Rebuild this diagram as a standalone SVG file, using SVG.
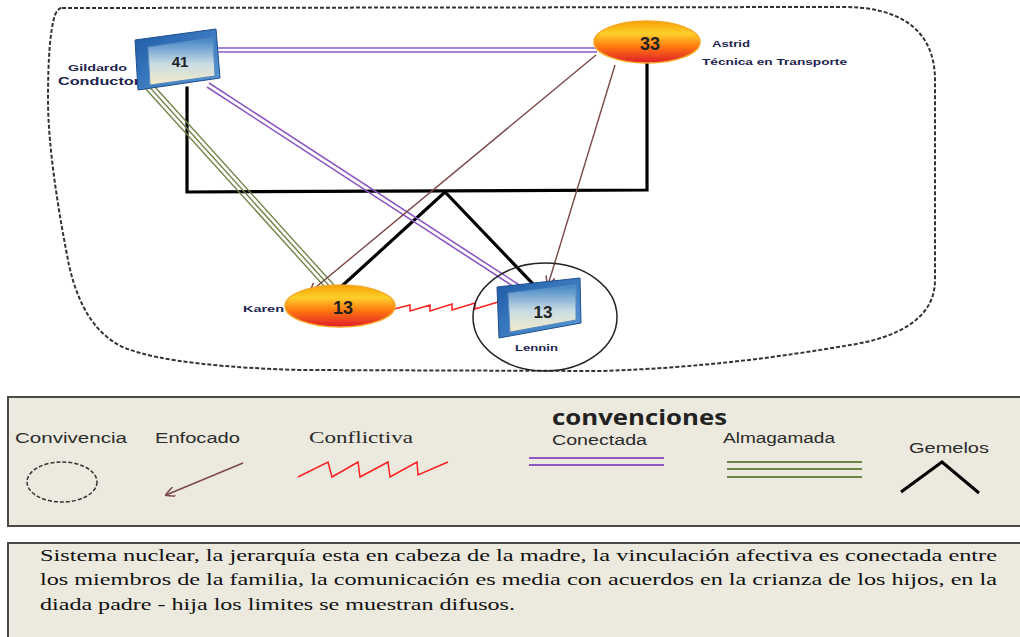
<svg xmlns="http://www.w3.org/2000/svg" width="1020" height="637" viewBox="0 0 1020 637">
<style>
.lbl{font-family:"Liberation Sans",Arial,sans-serif;font-weight:bold;font-size:9px;fill:#1d2450}
.num{font-family:"Liberation Sans",Arial,sans-serif;font-weight:bold;fill:#222;text-anchor:middle}
.leg{font-family:"Liberation Sans",Arial,sans-serif;font-size:14px;fill:#2b2b2b}
.body{font-family:"Liberation Serif","Times New Roman",serif;font-size:16px;fill:#111}
.black{stroke:#000;stroke-width:3.2;fill:none;stroke-linecap:square}
.pur{stroke:#8E58C2;stroke-width:1.6;fill:none}
.grn{stroke:#6D8645;stroke-width:1.4;fill:none}
.brn{stroke:#7A4848;stroke-width:1.4;fill:none;marker-end:url(#ah)}
.red{stroke:#FF2020;stroke-width:1.5;fill:none}
.dash{stroke:#333;stroke-width:2;fill:none;stroke-dasharray:4 2}
.panel{fill:#ECE9DF;stroke:#4a4a4a;stroke-width:2}
.ell{fill:url(#og);stroke:#F5A623;stroke-width:1.5}
.frame{fill:url(#bf);stroke:#1E4F8C;stroke-width:1}
.face{fill:url(#bg);stroke:#5A8CC0;stroke-width:1}
</style>
<defs>
<marker id="ah" viewBox="0 0 10 10" refX="9" refY="5" markerWidth="10" markerHeight="10" orient="auto" markerUnits="userSpaceOnUse">
<path d="M0,0 L10,5 L0,10" fill="none" stroke="#7A4848" stroke-width="1.5"/>
</marker>
<linearGradient id="og" x1="0" y1="0" x2="0" y2="1">
<stop offset="0" stop-color="#F5A000"/>
<stop offset="0.3" stop-color="#FFD02A"/>
<stop offset="0.6" stop-color="#FF7A10"/>
<stop offset="1" stop-color="#E01C2A"/>
</linearGradient>
<linearGradient id="bf" x1="0" y1="0" x2="1" y2="1">
<stop offset="0" stop-color="#1C5AA6"/>
<stop offset="1" stop-color="#5A9AD8"/>
</linearGradient>
<linearGradient id="bg" x1="0" y1="0" x2="0" y2="1">
<stop offset="0" stop-color="#3F82C6"/>
<stop offset="0.55" stop-color="#C9DCE4"/>
<stop offset="1" stop-color="#F5ECC8"/>
</linearGradient>
</defs>
<rect width="1020" height="637" fill="#fff"/>

<g id="boundary">
<path class="dash" d="M62,8 L840,7 C900,6 935,30 935,80 L935,280 C935,320 895,338 850,345 C780,357 700,368 600,371 L300,370 C230,368 160,362 125,348 C95,335 78,305 69,265 C60,220 48,150 48,100 C48,60 50,30 55,15 Q58,8 62,8 Z"/>
</g>

<g id="connectors">
<polyline class="black" points="187,88 187,192 647,190 647,64"/>
<polyline class="black" points="342,286 445,192 533,284"/>
<line class="pur" x1="218" y1="48" x2="597" y2="48"/>
<line class="pur" x1="218" y1="52" x2="597" y2="52"/>
<line class="pur" x1="207" y1="87" x2="522" y2="292"/>
<line class="pur" x1="209" y1="83" x2="524" y2="288"/>
<line class="grn" x1="142" y1="84.7" x2="330" y2="292.7"/>
<line class="grn" x1="145" y1="82" x2="333" y2="290"/>
<line class="grn" x1="148" y1="79.3" x2="336" y2="287.3"/>
<line class="brn" x1="596" y1="55" x2="310" y2="292"/>
<line class="brn" x1="615" y1="65" x2="548" y2="285"/>
<path class="red" d="M394,309 L410,305 L410,311 L430,305 L430,311 L452,304 L452,310 L475,303 L475,309 L498,302"/>
</g>

<g id="node-gildardo">
<text class="lbl" x="68" y="71" textLength="59" lengthAdjust="spacingAndGlyphs">Gildardo</text>
<text class="lbl" x="58" y="85" style="font-size:10px" textLength="82" lengthAdjust="spacingAndGlyphs">Conductor</text>
<polygon class="frame" points="135,40 216,29 220,78 138,90"/>
<polygon class="face" points="148,47 213,38 215,76 150,85"/>
<text class="num" x="180" y="67" style="font-size:15px">41</text>
</g>

<g id="node-astrid">
<ellipse class="ell" cx="647" cy="42" rx="53" ry="21"/>
<text class="num" x="650" y="50" style="font-size:18px">33</text>
<text class="lbl" x="712" y="47" textLength="38" lengthAdjust="spacingAndGlyphs">Astrid</text>
<text class="lbl" x="702" y="65" textLength="145" lengthAdjust="spacingAndGlyphs">Técnica en Transporte</text>
</g>

<g id="node-karen">
<ellipse class="ell" cx="340" cy="306" rx="55" ry="21"/>
<text class="num" x="343" y="314" style="font-size:18px">13</text>
<text class="lbl" x="243" y="312" textLength="41" lengthAdjust="spacingAndGlyphs">Karen</text>
</g>

<g id="node-lennin">
<ellipse cx="545" cy="317" rx="72" ry="54" fill="none" stroke="#222" stroke-width="1.5"/>
<polygon class="frame" points="497,287 580,278 581,323 499,338"/>
<polygon class="face" points="508,293 576,285 576,320 510,332"/>
<text class="num" x="543" y="318" style="font-size:17px">13</text>
<text class="lbl" x="515" y="351" textLength="43" lengthAdjust="spacingAndGlyphs">Lennin</text>
</g>

<g id="legend">
<rect class="panel" x="8" y="397" width="1020" height="129"/>
<text x="552" y="425" style="font-family:'Open Sans','Liberation Sans',sans-serif;font-weight:bold;font-size:22px;fill:#222" textLength="175" lengthAdjust="spacingAndGlyphs">convenciones</text>
<text class="leg" x="15" y="443" textLength="112" lengthAdjust="spacingAndGlyphs">Convivencia</text>
<ellipse class="dash" cx="62" cy="482" rx="35" ry="20" style="stroke-width:1.5"/>
<text class="leg" x="155" y="443" textLength="85" lengthAdjust="spacingAndGlyphs">Enfocado</text>
<line class="brn" x1="243" y1="463" x2="166" y2="495"/>
<text x="309" y="443" style="font-family:'Liberation Serif',serif;font-size:17px;fill:#2b2b2b" textLength="104" lengthAdjust="spacingAndGlyphs">Conflictiva</text>
<path class="red" d="M298,477 L328,462 L332,477 L358,462 L360,477 L388,462 L390,477 L417,462 L418,475 L448,462"/>
<text class="leg" x="552" y="445" textLength="95" lengthAdjust="spacingAndGlyphs">Conectada</text>
<line class="pur" x1="529" y1="458" x2="664" y2="458" style="stroke-width:2"/>
<line class="pur" x1="529" y1="465" x2="664" y2="465" style="stroke-width:2"/>
<text class="leg" x="723" y="443" textLength="112" lengthAdjust="spacingAndGlyphs">Almagamada</text>
<line class="grn" x1="727" y1="462" x2="862" y2="462" style="stroke-width:2"/>
<line class="grn" x1="727" y1="469" x2="862" y2="469" style="stroke-width:2"/>
<line class="grn" x1="727" y1="477" x2="862" y2="477" style="stroke-width:2"/>
<text class="leg" x="909" y="453" textLength="80" lengthAdjust="spacingAndGlyphs">Gemelos</text>
<polyline points="901,492 942,462 979,493" fill="none" stroke="#000" stroke-width="3"/>
</g>

<g id="description">
<rect class="panel" x="8" y="543" width="1020" height="110"/>
<text class="body" x="40" y="561" textLength="957" lengthAdjust="spacingAndGlyphs">Sistema nuclear, la jerarquía esta en cabeza de la madre, la vinculación afectiva es conectada entre</text>
<text class="body" x="40" y="585" textLength="957" lengthAdjust="spacingAndGlyphs">los miembros de la familia, la comunicación es media con acuerdos en la crianza de los hijos, en la</text>
<text class="body" x="40" y="610" textLength="475" lengthAdjust="spacingAndGlyphs">diada padre - hija los limites se muestran difusos.</text>
</g>
</svg>
